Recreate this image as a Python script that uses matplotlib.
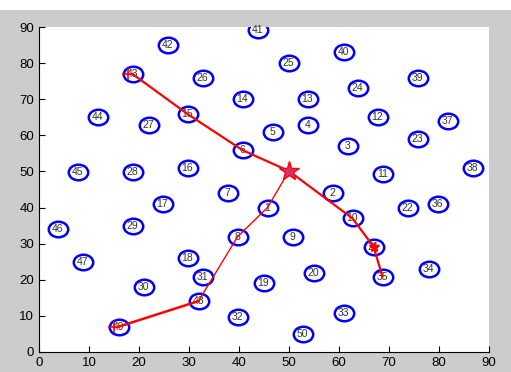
import numpy as np
import matplotlib
matplotlib.use('Agg')
from matplotlib import pyplot as plt
from matplotlib.patches import Rectangle
from matplotlib.path import Path
from matplotlib.transforms import Affine2D

plt.rcParams['font.family'] = ['Liberation Sans', 'DejaVu Sans']

# node id -> (x, y)
node_ids = list(range(1, 51))
node_x = [45.7, 58.7, 61.7, 53.7, 46.7, 40.7, 37.7, 39.7, 50.7, 62.7,
          68.7, 67.7, 53.7, 40.7, 29.7, 29.7, 24.7, 29.7, 44.9, 54.9,
          66.9, 73.7, 75.7, 63.7, 49.9, 32.7, 21.9, 18.7, 18.7, 20.9,
          32.7, 39.7, 60.9, 77.9, 68.7, 79.7, 81.7, 86.7, 75.7, 60.9,
          43.7, 25.7, 18.7, 11.7, 7.7, 3.7, 8.7, 31.9, 15.9, 52.7]
node_y = [40.0, 44.1, 57.0, 63.0, 61.0, 55.9, 44.1, 31.9, 31.9, 37.0,
          49.2, 65.2, 70.0, 70.0, 65.9, 51.0, 41.0, 25.9, 19.0, 22.0,
          29.2, 40.0, 59.1, 73.0, 80.0, 76.0, 63.0, 49.8, 34.9, 18.1,
          20.9, 9.8, 10.9, 23.0, 20.9, 41.0, 64.1, 51.0, 76.0, 83.0,
          89.2, 85.0, 77.0, 65.2, 49.8, 34.1, 24.8, 14.1, 7.0, 4.9]

depot = (50.0, 50.1)

# routes, 0 = depot
route1 = [43, 15, 6, 0, 10, 21, 35]
route2a = [49, 48]
route2b = [48, 8, 1, 0]

def coords(route):
    xs, ys = [], []
    for n in route:
        if n == 0:
            xs.append(depot[0]); ys.append(depot[1])
        else:
            xs.append(node_x[n - 1]); ys.append(node_y[n - 1])
    return xs, ys

# slightly flattened circle like the original
ellipse = Affine2D().scale(1.0, 0.8).transform_path(Path.unit_circle())

fig = plt.figure(figsize=(5.11, 3.72), dpi=100, facecolor='#cccccc')
fig.add_artist(Rectangle((0, 372 - 10), 511, 10, transform=None,
                         facecolor='white', edgecolor='none'))
ax = fig.add_axes([39/511, 20/372, 450/511, 325/372])

ax.plot(node_x, node_y, linestyle='none', marker=ellipse, ms=14, mfc='none',
        mec='blue', mew=1.8, zorder=2)
for i, x, y in zip(node_ids, node_x, node_y):
    ax.text(x, y, str(i), fontsize=7.5, color='#333333', ha='center', va='center', zorder=3)

for r, lw in [(route1, 1.6), (route2a, 1.8), (route2b, 1.0)]:
    xs, ys = coords(r)
    ax.plot(xs, ys, '-', color='red', lw=lw, zorder=4)

# start markers and end marker
sx, sy = coords([43, 49])
ax.plot([x - 1.0 for x in sx], sy, '+', color='red', ms=8, mew=1.2, zorder=5)
ex, ey = coords([21])
ax.plot(ex, ey, '*', color='red', ms=7, zorder=5)
ax.plot(depot[0], depot[1], '*', ms=15, mfc='#d8306a', mec='red', mew=1, zorder=6)

ax.set_xlim(0, 90)
ax.set_ylim(0, 90)
ax.set_xticks(np.arange(0, 91, 10))
ax.set_yticks(np.arange(0, 91, 10))
ax.tick_params(direction='in', length=4, labelsize=9.5, colors='black')
ax.spines['top'].set_visible(False)
ax.spines['right'].set_visible(False)
ax.set_facecolor('white')

fig.savefig('out.png', dpi=100, facecolor=fig.get_facecolor())
